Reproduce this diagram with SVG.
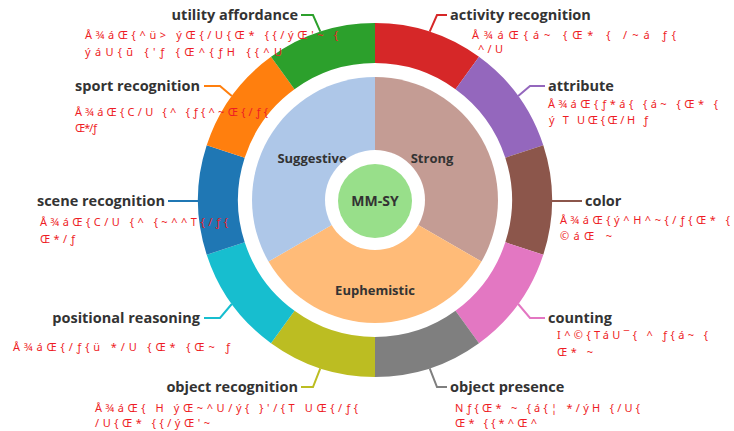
<svg xmlns="http://www.w3.org/2000/svg" width="734" height="431" viewBox="0 0 734 431">
<style>
.lbl{font-family:"Open Sans","Noto Sans",sans-serif;font-weight:700;font-size:14.5px;fill:#333}
.in{font-family:"Open Sans","Noto Sans",sans-serif;font-weight:700;font-size:13px;fill:#333;text-anchor:middle}
.red{font-family:"Noto Sans","DejaVu Sans",sans-serif;font-size:11px;fill:#ee1c25}
.ld{fill:none;stroke-width:2}
</style>
<rect width="734" height="431" fill="#fff"/>
<g id="inner">
<path d="M375,200 L375,77 A123,123 0 0 1 481.5,261.5 Z" fill="#c49c94"/>
<path d="M375,200 L481.5,261.5 A123,123 0 0 1 268.5,261.5 Z" fill="#ffbb78"/>
<path d="M375,200 L268.5,261.5 A123,123 0 0 1 375,77 Z" fill="#aec7e8"/>
<text class="in" x="432" y="163">Strong</text>
<text class="in" x="312" y="163">Suggestive</text>
<text class="in" x="375" y="295">Euphemistic</text>
</g>
<g id="center">
<circle cx="375" cy="200" r="50" fill="#fff"/>
<circle cx="375" cy="201" r="37" fill="#98df8a"/>
<text class="in" x="375" y="206" style="font-size:14px">MM-SY</text>
</g>
<g id="activity-recognition">
<path d="M375,23 A177,177 0 0 1 479,56.8 L455.5,89.2 A137,137 0 0 0 375,63 Z" fill="#d62728"/>
<text class="lbl" x="450" y="20">activity recognition</text>
<text class="red" x="472" y="39" textLength="204" lengthAdjust="spacing">Å¾áŒ{á~ {Œ* { /~á   ƒ{</text>
<text class="red" x="478" y="53" textLength="25" lengthAdjust="spacing">^/U</text>
</g>
<g id="attribute">
<path d="M479,56.8 A177,177 0 0 1 543.3,145.3 L505.3,157.7 A137,137 0 0 0 455.5,89.2 Z" fill="#9467bd"/>
<text class="lbl" x="548" y="91">attribute</text>
<text class="red" x="548" y="108" textLength="170" lengthAdjust="spacing">Å¾áŒ{ƒ*á{ {á~ {Œ* {</text>
<text class="red" x="549" y="124" textLength="99" lengthAdjust="spacing">ý T UŒ{Œ/H ƒ</text>
</g>
<g id="color">
<path d="M543.3,145.3 A177,177 0 0 1 543.3,254.7 L505.3,242.3 A137,137 0 0 0 505.3,157.7 Z" fill="#8c564b"/>
<text class="lbl" x="585" y="206">color</text>
<text class="red" x="560" y="224" textLength="170" lengthAdjust="spacing">Å¾áŒ{ý^H^~{/ƒ{Œ* {</text>
<text class="red" x="560" y="240" textLength="52" lengthAdjust="spacing">©áŒ ~</text>
</g>
<g id="counting">
<path d="M543.3,254.7 A177,177 0 0 1 479,343.2 L455.5,310.8 A137,137 0 0 0 505.3,242.3 Z" fill="#e377c2"/>
<text class="lbl" x="548" y="323">counting</text>
<text class="red" x="557" y="339" textLength="151" lengthAdjust="spacing">I^©{TáU¯{ ^ ƒ{á~ {</text>
<text class="red" x="557" y="356" textLength="36" lengthAdjust="spacing">Œ* ~</text>
</g>
<g id="object-presence">
<path d="M479,343.2 A177,177 0 0 1 375,377 L375,337 A137,137 0 0 0 455.5,310.8 Z" fill="#7f7f7f"/>
<text class="lbl" x="450" y="392">object presence</text>
<text class="red" x="455" y="412" textLength="185" lengthAdjust="spacing">Nƒ{Œ* ~ {á{¦ */ýH {/U{</text>
<text class="red" x="455" y="427" textLength="82" lengthAdjust="spacing">Œ* {{*^Œ^</text>
</g>
<g id="object-recognition">
<path d="M375,377 A177,177 0 0 1 271,343.2 L294.5,310.8 A137,137 0 0 0 375,337 Z" fill="#bcbd22"/>
<text class="lbl" x="298" y="392" text-anchor="end">object recognition</text>
<text class="red" x="95" y="412" textLength="263" lengthAdjust="spacing">Å¾áŒ{ H ýŒ~^U/ý{ }'/{T UŒ{/ƒ{</text>
<text class="red" x="95" y="427" textLength="115" lengthAdjust="spacing">/U{Œ* {{/ýŒ'~</text>
</g>
<g id="positional-reasoning">
<path d="M271,343.2 A177,177 0 0 1 206.7,254.7 L244.7,242.3 A137,137 0 0 0 294.5,310.8 Z" fill="#17becf"/>
<text class="lbl" x="200" y="323" text-anchor="end">positional reasoning</text>
<text class="red" x="13" y="351" textLength="217" lengthAdjust="spacing">Å¾áŒ{/ƒ{ü */U {Œ* {Œ~  ƒ</text>
</g>
<g id="scene-recognition">
<path d="M206.7,254.7 A177,177 0 0 1 206.7,145.3 L244.7,157.7 A137,137 0 0 0 244.7,242.3 Z" fill="#1f77b4"/>
<text class="lbl" x="165" y="206" text-anchor="end">scene recognition</text>
<text class="red" x="40" y="226" textLength="188" lengthAdjust="spacing">Å¾áŒ{C/U {^ {~^^T{/ƒ{</text>
<text class="red" x="40" y="243" textLength="35" lengthAdjust="spacing">Œ*/ƒ</text>
</g>
<g id="sport-recognition">
<path d="M206.7,145.3 A177,177 0 0 1 271,56.8 L294.5,89.2 A137,137 0 0 0 244.7,157.7 Z" fill="#ff7f0e"/>
<text class="lbl" x="200" y="91" text-anchor="end">sport recognition</text>
<text class="red" x="75" y="116" textLength="193" lengthAdjust="spacing">Å¾áŒ{C/U {^ {ƒ{^~Œ{/ƒ{</text>
<text class="red" x="75" y="132" textLength="22" lengthAdjust="spacing">Œ*/ƒ</text>
</g>
<g id="utility-affordance">
<path d="M271,56.8 A177,177 0 0 1 375,23 L375,63 A137,137 0 0 0 294.5,89.2 Z" fill="#2ca02c"/>
<text class="lbl" x="298" y="20" text-anchor="end">utility affordance</text>
<text class="red" x="85" y="39" textLength="253" lengthAdjust="spacing">Å¾áŒ{^ü&gt; ýŒ{/U{Œ* {{/ýŒ'~ {</text>
<text class="red" x="85" y="56" textLength="197" lengthAdjust="spacing">ýáU{ū {'ƒ  {Œ^{ƒH  {{^U</text>
</g>
<g id="connectors">
<polyline class="ld" stroke="#d62728" points="429.7,31.7 437,15 447,15"/>
<polyline class="ld" stroke="#9467bd" points="518.2,96 530,86 545,86"/>
<polyline class="ld" stroke="#8c564b" points="552,201 582,201"/>
<polyline class="ld" stroke="#e377c2" points="518.2,304 530,318 545,318"/>
<polyline class="ld" stroke="#7f7f7f" points="429.7,368.3 437,387 447,387"/>
<polyline class="ld" stroke="#bcbd22" points="320.3,368.3 313,387 301,387"/>
<polyline class="ld" stroke="#17becf" points="231.8,304 220,318 204,318"/>
<polyline class="ld" stroke="#1f77b4" points="198,201 168,201"/>
<polyline class="ld" stroke="#ff7f0e" points="231.8,96 220,86 204,86"/>
<polyline class="ld" stroke="#2ca02c" points="320.3,31.7 313,15 301,15"/>
</g>
</svg>
